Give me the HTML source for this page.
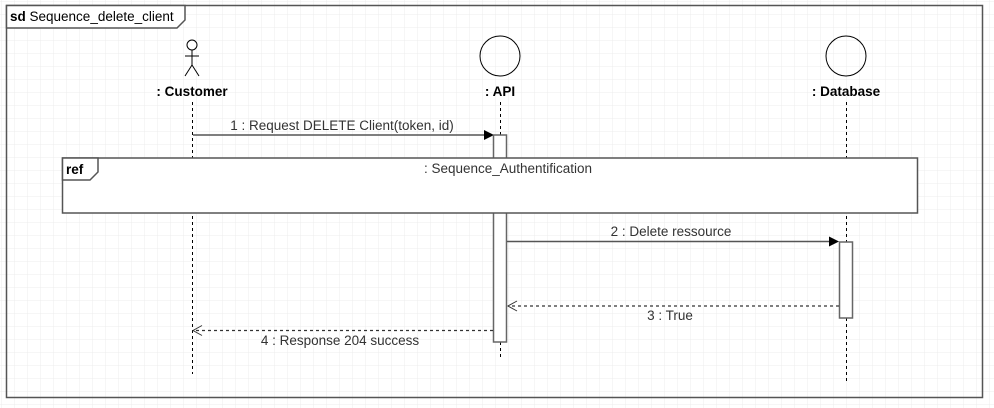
<!DOCTYPE html>
<html><head><meta charset="utf-8"><style>
html,body{margin:0;padding:0;background:#fff;}
svg{display:block;font-family:"Liberation Sans",sans-serif;}
</style></head><body>
<svg width="994" height="408" viewBox="0 0 994 408" xmlns="http://www.w3.org/2000/svg">
<defs>
<pattern id="g" width="13" height="13" patternUnits="userSpaceOnUse" x="2" y="2">
<path d="M13 0V13H0" fill="none" stroke="#ececec" stroke-width="1"/>
</pattern>
</defs>
<rect width="994" height="408" fill="url(#g)"/>
<rect x="6.5" y="5.5" width="976" height="392" fill="none" stroke="#555" stroke-width="1.5"/>
<path d="M6.5 5.5H185V20L177 28H6.5Z" fill="#fff" stroke="#555" stroke-width="1.5"/>
<text x="10" y="21" font-size="13.5"><tspan font-weight="bold">sd</tspan> Sequence_delete_client</text>

<g stroke="#000" fill="none" stroke-width="1">
<circle cx="192" cy="45" r="5"/>
<line x1="192" y1="50" x2="192" y2="65"/>
<line x1="185" y1="56" x2="199" y2="56"/>
<line x1="192" y1="65" x2="185" y2="76"/>
<line x1="192" y1="65" x2="199" y2="76"/>
<circle cx="500" cy="56" r="20"/>
<circle cx="846" cy="56" r="20"/>
</g>
<g font-size="13.5" font-weight="bold" text-anchor="middle">
<text x="192" y="96">: Customer</text>
<text x="500" y="96">: API</text>
<text x="846" y="96">: Database</text>
</g>
<g stroke="#000" stroke-dasharray="3,3" stroke-width="1">
<line x1="192.5" y1="102" x2="192.5" y2="374"/>
<line x1="500.5" y1="102" x2="500.5" y2="358"/>
<line x1="846.5" y1="102" x2="846.5" y2="382"/>
</g>
<line x1="193" y1="135" x2="484" y2="135" stroke="#555" stroke-width="1.5"/>
<path d="M484 130L494 135L484 140Z" fill="#000"/>
<text x="342" y="130" font-size="13.5" text-anchor="middle" fill="#333">1 : Request DELETE Client(token, id)</text>
<rect x="493.5" y="135" width="13" height="207" fill="#fff" stroke="#666" stroke-width="1.5"/>
<rect x="839.5" y="242" width="13" height="76" fill="#fff" stroke="#666" stroke-width="1.5"/>
<rect x="62.5" y="158" width="855" height="55" fill="#fff" stroke="#555" stroke-width="1.5"/>
<path d="M62.5 158H98V172L90 180H62.5Z" fill="#fff" stroke="#555" stroke-width="1.5"/>
<text x="66" y="174" font-size="13.5" font-weight="bold">ref</text>
<text x="508" y="173" font-size="13.5" text-anchor="middle" fill="#333">: Sequence_Authentification</text>
<line x1="507" y1="241.5" x2="829" y2="241.5" stroke="#555" stroke-width="1.5"/>
<path d="M829 236.5L839 241.5L829 246.5Z" fill="#000"/>
<text x="671" y="236" font-size="13.5" text-anchor="middle" fill="#333">2 : Delete ressource</text>
<line x1="839" y1="306" x2="508" y2="306" stroke="#333" stroke-width="1.2" stroke-dasharray="3,3"/>
<path d="M517 301L508 306L517 311" fill="none" stroke="#333"/>
<text x="670" y="320" font-size="13.5" text-anchor="middle" fill="#333">3 : True</text>
<line x1="493" y1="330.5" x2="193" y2="330.5" stroke="#333" stroke-width="1.2" stroke-dasharray="3,3"/>
<path d="M202 325.5L193 330.5L202 335.5" fill="none" stroke="#333"/>
<text x="340" y="345" font-size="13.5" text-anchor="middle" fill="#333">4 : Response 204 success</text>
</svg>
</body></html>
